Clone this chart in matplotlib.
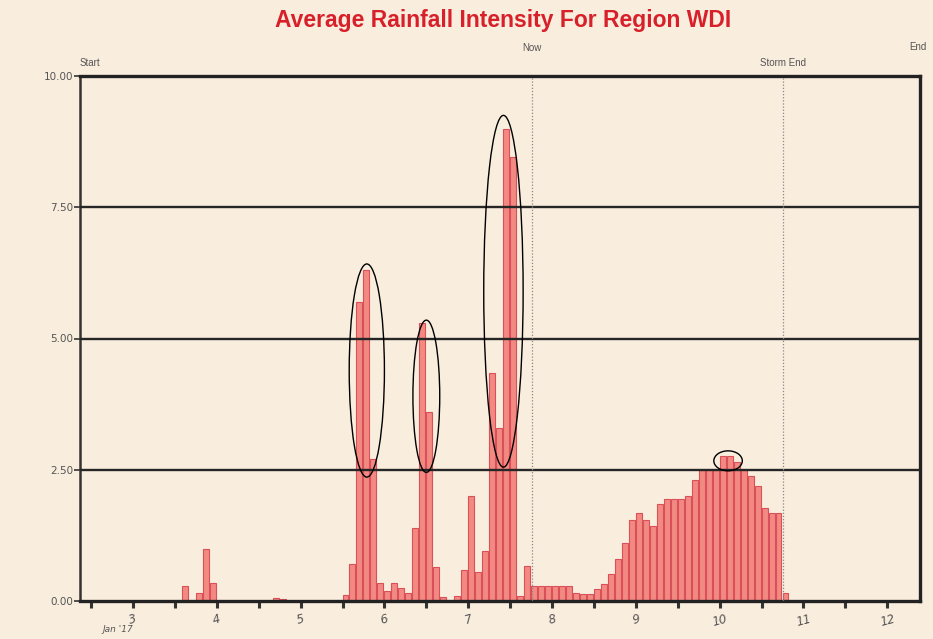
import numpy as np
import matplotlib
matplotlib.use("Agg")
import matplotlib.pyplot as plt
from matplotlib.patches import Ellipse

# ---------------- data ----------------
title = "Average Rainfall Intensity For Region WDI"
first_bin_day = 3.5          # day of month where the first 2-hour bin starts
bin_days = 2 / 24            # 2-hour bins
rain = [0, 0.29, 0, 0.15, 1.0, 0.35,
        0, 0, 0, 0, 0, 0, 0, 0,
        0.06, 0.03,
        0, 0, 0, 0, 0, 0, 0, 0,
        0.12, 0.7, 5.7, 6.3, 2.7, 0.35,
        0.2, 0.35, 0.25, 0.15, 1.4, 5.3, 3.6, 0.65, 0.07, 0,
        0.1, 0.6, 2.0, 0.55, 0.95, 4.35, 3.3, 9.0, 8.45, 0.1,
        0.67, 0.29, 0.29, 0.29, 0.29, 0.29, 0.29,
        0.16, 0.13, 0.13, 0.22, 0.32, 0.52, 0.8, 1.1,
        1.55, 1.68, 1.55, 1.43, 1.85, 1.94, 1.94, 1.94, 2.0, 2.3,
        2.5, 2.5, 2.5, 2.77, 2.77, 2.65, 2.5, 2.38, 2.19, 1.77,
        1.68, 1.68, 0.16]
day_ticks = [3, 4, 5, 6, 7, 8, 9, 10, 11, 12]
y_ticks = [0, 2.5, 5, 7.5, 10]
y_ticklabels = ["0.00", "2.50", "5.00", "7.50", "10.00"]
now_day = 7.76
storm_end_day = 10.76
# hand-drawn highlight loops: (centre day, centre value, width days, height value)
loops = [(5.79, 4.39, 0.42, 4.06),
         (6.50, 3.90, 0.32, 2.90),
         (7.42, 5.90, 0.47, 6.70),
         (10.10, 2.67, 0.34, 0.38)]

# ---------------- figure ----------------
bg = "#f9eddd"
fig = plt.figure(figsize=(9.33, 6.39), dpi=100, facecolor=bg)
ax = fig.add_axes([80 / 933, 38 / 639, 840 / 933, 525 / 639], facecolor=bg)

starts = first_bin_day + np.arange(len(rain)) * bin_days
ax.bar(starts, rain, width=bin_days * 0.85, align="edge",
       color="#f28a82", edgecolor="#d9505a", linewidth=0.8, zorder=2)

ax.set_xlim(2.368, 12.39)
ax.set_ylim(0, 10)

# horizontal gridlines
for yv in y_ticks[1:-1]:
    ax.axhline(yv, color="#262626", lw=1.7, zorder=3)

# event lines
for d in (now_day, storm_end_day):
    ax.axvline(d, color="#888888", lw=0.9, ls=(0, (1, 1.5)), zorder=3)

# loops
for cx, cy, w, h in loops:
    ax.add_patch(Ellipse((cx, cy), w, h, fill=False, ec="black", lw=1.0, zorder=4))

# spines
for s in ax.spines.values():
    s.set_color("#222222")
    s.set_linewidth(2.4)
ax.spines["left"].set_linewidth(1.8)
ax.spines["left"].set_color("#333333")

# ticks
ax.set_yticks(y_ticks)
ax.set_yticklabels(y_ticklabels)
ax.tick_params(axis="y", length=4, width=1.2, colors="#333333", labelsize=7.5,
               labelcolor="#555555", pad=1)
ax.set_xticks(day_ticks)
ax.set_xticklabels([str(d) for d in day_ticks], fontstyle="italic")
ax.set_xticks([d + 0.5 for d in range(2, 12)], minor=True)
ax.tick_params(axis="x", which="both", length=5, width=2.2, colors="#333333",
               labelsize=8.5, labelcolor="#555555", pad=3)
for lbl in ax.get_xticklabels():
    lbl.set_rotation(15)
ax.text(3, -0.045, "Jan '17", transform=ax.get_xaxis_transform(), ha="right",
        va="top", fontsize=6.5, color="#555555", fontstyle="italic")

# title and event labels
fig.text(503 / 933, 1 - 20 / 639, title, ha="center", va="center",
         fontsize=16.5, fontweight="bold", color="#d8202a", family="Liberation Sans")
lab_kw = dict(fontsize=7, color="#555555", va="center", family="Liberation Sans")
fig.text(80 / 933, 1 - 63 / 639, "Start", ha="left", **lab_kw)
ax.text(now_day, 1.0 + 28 / 525, "Now", ha="center",
        transform=ax.get_xaxis_transform(), **lab_kw)
ax.text(storm_end_day, 1.0 + 13 / 525, "Storm End", ha="center",
        transform=ax.get_xaxis_transform(), **lab_kw)
fig.text(918 / 933, 1 - 47 / 639, "End", ha="center", **lab_kw)

fig.savefig("out.png", dpi=100, facecolor=bg)
